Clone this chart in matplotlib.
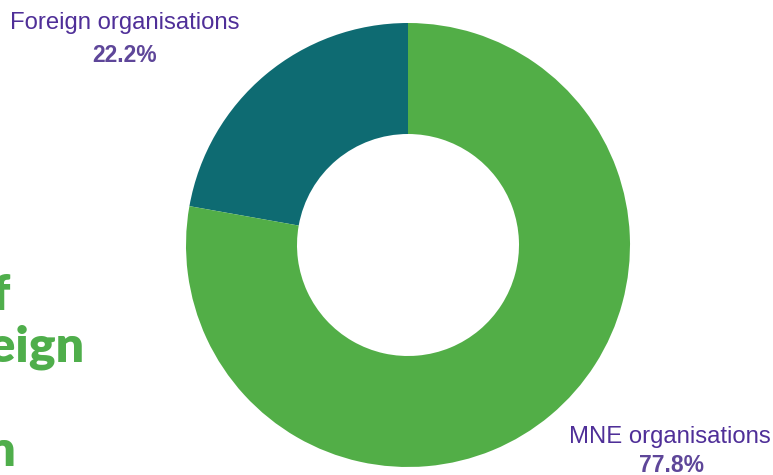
import matplotlib.pyplot as plt

# ---- data ----
labels = ['Foreign organisations', 'MNE organisations']
shares = [22.2, 77.8]
colors = ['#0E6B72', '#52AE47']

# fragments of the page heading that sits behind the chart (cropped at left edge)
heading_lines = ['of', 'foreign', '', 'in']

fig = plt.figure(figsize=(7.73, 4.75), dpi=100)
ax = fig.add_axes([0, 0, 1, 1])

H = 475
ax.pie(shares, colors=colors, startangle=90, counterclock=True,
       radius=222, center=(408, H - 245),
       wedgeprops=dict(width=111, linewidth=0))
ax.set_xlim(0, 773)
ax.set_ylim(0, H)
ax.set_aspect('equal')
ax.axis('off')

name_col = '#4F2F98'
pct_col = '#5E4699'

# slice labels
ax.text(125, H - 23, labels[0], ha='center', va='center', fontsize=17.2,
        color=name_col, family='Liberation Sans')
ax.text(125, H - 55, f'{shares[0]:.1f}%', ha='center', va='center', fontsize=16.5,
        color=pct_col, family='Liberation Sans', weight='bold')
ax.text(670, H - 437, labels[1], ha='center', va='center', fontsize=17.2,
        color=name_col, family='Liberation Sans')
ax.text(672, H - 465, f'{shares[1]:.1f}%', ha='center', va='center', fontsize=16.5,
        color=pct_col, family='Liberation Sans', weight='bold')

# cropped heading on the left
right_edges = [11, 84, 0, 16]
for i, (line, xr) in enumerate(zip(heading_lines, right_edges)):
    if line:
        ax.text(xr, H - (310 + 52 * i), line, ha='right', va='baseline',
                fontsize=36, color='#4FAE4B', family='Lato', weight='heavy')

fig.savefig('out.png', dpi=100)
